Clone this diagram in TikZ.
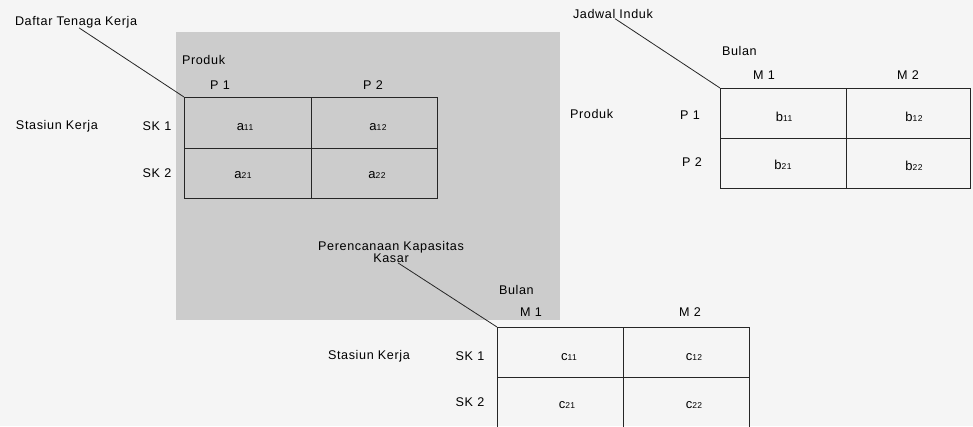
\documentclass[tikz,border=0pt]{standalone}
\usepackage{fontspec}
\setmainfont{Liberation Sans}[LetterSpace=5]
\newcommand\cellsub[1]{{\fontsize{8.5}{9}\selectfont #1}}
\tikzset{
  txt/.style={inner sep=0pt, outer sep=0pt, font=\fontsize{12.6}{14}\selectfont, text=black},
  lbl/.style={txt, anchor=west},
  celltxt/.style={inner sep=0pt, outer sep=0pt, font=\fontsize{13}{14}\selectfont, text=black},
  cellbox/.style={draw=black!85, line width=1pt, inner sep=0pt, outer sep=0pt},
  leader/.style={draw=black!85, line width=0.8pt}
}
\begin{document}
\begin{tikzpicture}[x=1pt,y=-1pt]
\useasboundingbox (0,0) rectangle (973,426);
\fill[black!4] (0,0) rectangle (973,426);
\fill[black!20] (176,32) rectangle (560,320);

% ---------- Table A: Daftar Tenaga Kerja ----------
\node[cellbox, minimum width=127pt, minimum height=51pt] (a11) at (247.5,122.5) {};
\node[cellbox, minimum width=126pt, minimum height=51pt] (a12) at (374,122.5) {};
\node[cellbox, minimum width=127pt, minimum height=50pt] (a21) at (247.5,173) {};
\node[cellbox, minimum width=126pt, minimum height=50pt] (a22) at (374,173) {};
\node[celltxt] (ta11) at (245,127) {a\cellsub{11}};
\node[celltxt] (ta12) at (378,127) {a\cellsub{12}};
\node[celltxt] (ta21) at (243,175) {a\cellsub{21}};
\node[celltxt] (ta22) at (377,175) {a\cellsub{22}};
\node[lbl] (aprod) at (182,60) {Produk};
\node[txt] (ap1) at (220,85) {P 1};
\node[txt] (ap2) at (373,85) {P 2};
\node[txt] (ask1) at (157,126) {SK 1};
\node[txt] (ask2) at (157,173) {SK 2};
\node[lbl] (ast) at (16,126) {Stasiun Kerja};
\node[lbl] (atitle) at (15,22) {Daftar Tenaga Kerja};
\draw[leader] ([xshift=3pt]atitle.south) -- (a11.north west);

% ---------- Table B: Jadwal Induk ----------
\node[cellbox, minimum width=126pt, minimum height=50pt] (b11) at (783,113) {};
\node[cellbox, minimum width=124pt, minimum height=50pt] (b12) at (908,113) {};
\node[cellbox, minimum width=126pt, minimum height=50pt] (b21) at (783,163) {};
\node[cellbox, minimum width=124pt, minimum height=50pt] (b22) at (908,163) {};
\node[celltxt] (tb11) at (784,117) {b\cellsub{11}};
\node[celltxt] (tb12) at (914,117) {b\cellsub{12}};
\node[celltxt] (tb21) at (783,165) {b\cellsub{21}};
\node[celltxt] (tb22) at (914,166) {b\cellsub{22}};
\node[lbl] (bbulan) at (722,51) {Bulan};
\node[txt] (bm1) at (764,75) {M 1};
\node[txt] (bm2) at (908,75) {M 2};
\node[txt] (bp1) at (690,115) {P 1};
\node[txt] (bp2) at (692,162) {P 2};
\node[lbl] (bprod) at (570,114) {Produk};
\node[lbl] (btitle) at (573,14) {Jadwal Induk};
\draw[leader] ([xshift=2pt]btitle.south) -- (b11.north west);

% ---------- Table C: Perencanaan Kapasitas Kasar ----------
\node[cellbox, minimum width=126pt, minimum height=50pt] (c11) at (560,352) {};
\node[cellbox, minimum width=126pt, minimum height=50pt] (c12) at (686,352) {};
\node[cellbox, minimum width=126pt, minimum height=50pt] (c21) at (560,402) {};
\node[cellbox, minimum width=126pt, minimum height=50pt] (c22) at (686,402) {};
\node[celltxt] (tc11) at (569,357) {c\cellsub{11}};
\node[celltxt] (tc12) at (694,357) {c\cellsub{12}};
\node[celltxt] (tc21) at (567,405) {c\cellsub{21}};
\node[celltxt] (tc22) at (694,405) {c\cellsub{22}};
\node[lbl] (cbulan) at (499,290) {Bulan};
\node[txt] (cm1) at (531,312) {M 1};
\node[txt] (cm2) at (690,312) {M 2};
\node[txt] (csk1) at (470,356) {SK 1};
\node[txt] (csk2) at (470,402) {SK 2};
\node[lbl] (cst) at (328,356) {Stasiun Kerja};
\node[txt, align=center] (ctitle) at (391,252) {Perencanaan Kapasitas\\[-1.5pt]Kasar};
\draw[leader] ([xshift=7pt]ctitle.south) -- (c11.north west);
\end{tikzpicture}
\end{document}
